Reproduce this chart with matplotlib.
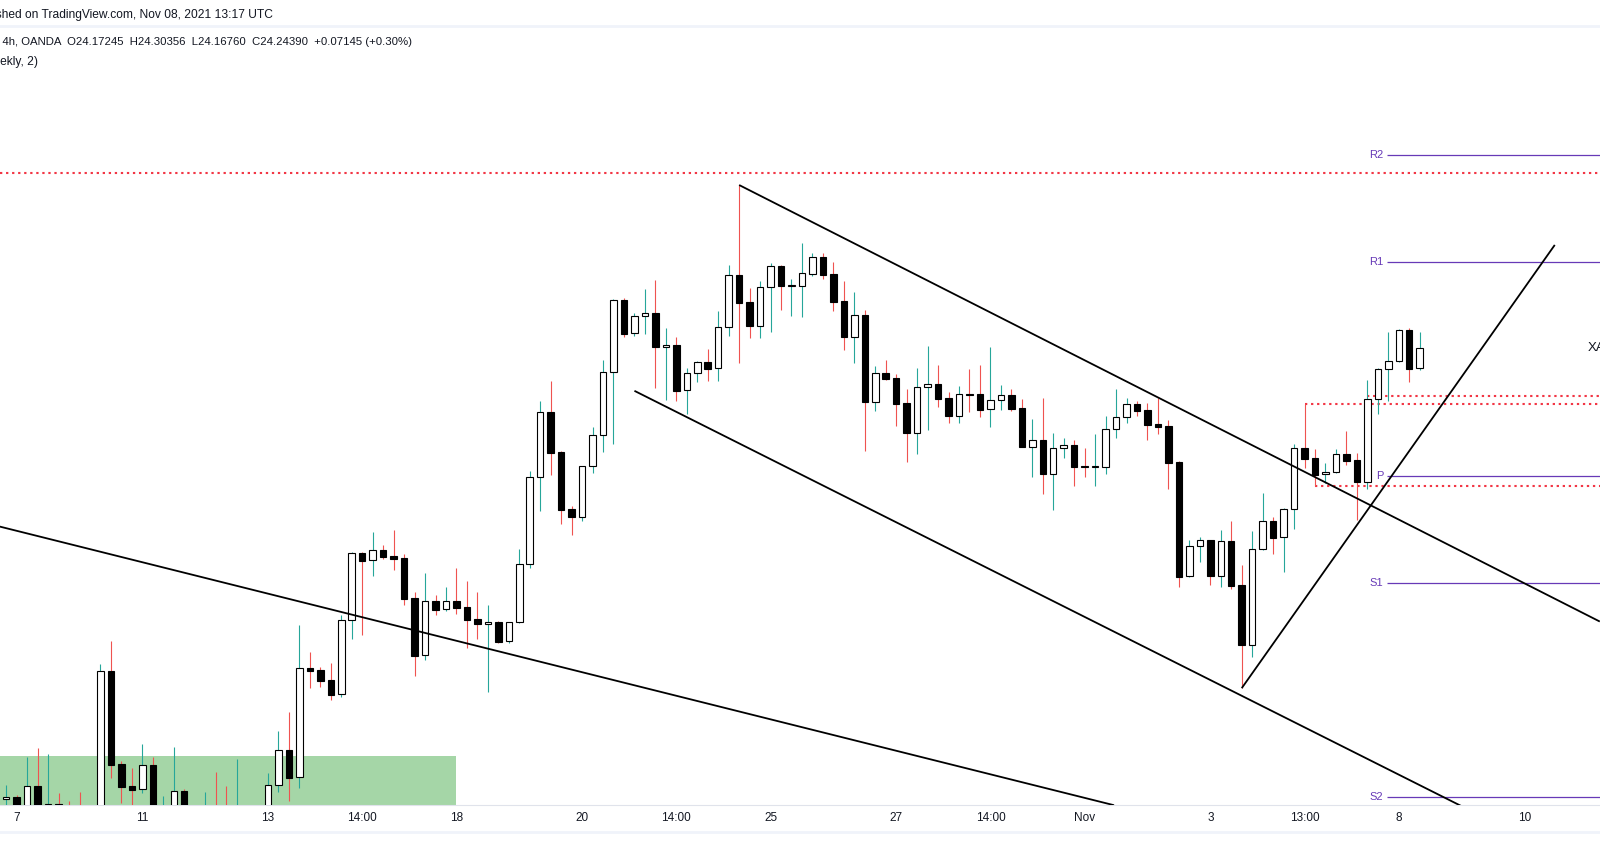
import matplotlib.pyplot as plt
from matplotlib.lines import Line2D
from matplotlib.patches import Rectangle

plt.rcParams['font.family'] = ['Liberation Sans', 'DejaVu Sans']

# 4h candles, index 0 = Oct 7 00:00, one step per candle
bar_index = list(range(-1, 135))

opens = [
    22.633, 22.641, 22.588, 22.681, 22.609, 22.616, 22.602, 22.606, 22.541, 22.559,
    23.090, 22.759, 22.681, 22.669, 22.756, 22.588, 22.595, 22.662, 22.577, 22.577,
    22.602, 22.595, 22.559, 22.577, 22.552, 22.588, 22.683, 22.808, 22.712, 23.101,
    23.094, 23.058, 23.008, 23.272, 23.512, 23.487, 23.522, 23.502, 23.495, 23.352,
    23.147, 23.340, 23.312, 23.340, 23.320, 23.277, 23.259, 23.266, 23.197, 23.265,
    23.472, 23.783, 24.015, 23.872, 23.670, 23.642, 23.822, 23.933, 24.158, 24.415,
    24.297, 24.358, 24.370, 24.250, 24.255, 24.094, 24.155, 24.194, 24.172, 24.319,
    24.505, 24.408, 24.325, 24.462, 24.537, 24.467, 24.467, 24.510, 24.569, 24.508,
    24.412, 24.285, 24.362, 24.053, 24.156, 24.137, 24.049, 23.942, 24.105, 24.116,
    24.066, 24.003, 24.082, 24.081, 24.026, 24.058, 24.077, 24.031, 23.892, 23.916,
    23.796, 23.887, 23.897, 23.824, 23.819, 23.821, 23.955, 23.997, 24.045, 24.024,
    23.974, 23.966, 23.838, 23.430, 23.537, 23.558, 23.432, 23.555, 23.399, 23.185,
    23.526, 23.626, 23.569, 23.669, 23.887, 23.851, 23.794, 23.803, 23.865, 23.845,
    23.767, 24.062, 24.169, 24.197, 24.309, 24.17245]

highs = [
    22.684, 22.647, 22.785, 22.817, 22.795, 22.656, 22.627, 22.659, 22.609, 23.116,
    23.199, 22.770, 22.745, 22.831, 22.784, 22.645, 22.820, 22.670, 22.602, 22.659,
    22.731, 22.681, 22.777, 22.595, 22.602, 22.727, 22.877, 22.946, 23.256, 23.159,
    23.105, 23.120, 23.291, 23.516, 23.516, 23.588, 23.541, 23.595, 23.509, 23.374,
    23.441, 23.363, 23.391, 23.459, 23.413, 23.374, 23.327, 23.270, 23.268, 23.527,
    23.806, 24.056, 24.127, 23.877, 23.681, 23.825, 23.963, 24.202, 24.420, 24.424,
    24.370, 24.456, 24.488, 24.315, 24.284, 24.174, 24.199, 24.241, 24.377, 24.541,
    24.827, 24.459, 24.484, 24.549, 24.541, 24.491, 24.620, 24.584, 24.584, 24.552,
    24.484, 24.445, 24.381, 24.181, 24.202, 24.152, 24.097, 24.174, 24.252, 24.184,
    24.088, 24.109, 24.170, 24.185, 24.249, 24.113, 24.099, 24.063, 23.991, 24.066,
    23.941, 23.924, 23.916, 23.888, 23.938, 24.002, 24.099, 24.066, 24.056, 24.049,
    24.066, 23.988, 23.840, 23.558, 23.570, 23.559, 23.595, 23.627, 23.470, 23.591,
    23.727, 23.641, 23.674, 23.902, 24.046, 23.884, 23.833, 23.884, 23.950, 23.870,
    24.130, 24.174, 24.302, 24.313, 24.316, 24.30356]

lows = [
    22.588, 22.552, 22.566, 22.577, 22.588, 22.595, 22.566, 22.559, 22.524, 22.541,
    22.709, 22.621, 22.602, 22.655, 22.577, 22.566, 22.577, 22.566, 22.531, 22.559,
    22.552, 22.541, 22.541, 22.524, 22.524, 22.574, 22.660, 22.627, 22.675, 23.032,
    23.035, 22.988, 23.000, 23.207, 23.221, 23.432, 23.492, 23.453, 23.328, 23.074,
    23.132, 23.291, 23.306, 23.296, 23.175, 23.207, 23.016, 23.191, 23.192, 23.263,
    23.458, 23.664, 23.792, 23.617, 23.578, 23.626, 23.800, 23.874, 23.902, 24.284,
    24.288, 24.296, 24.102, 24.059, 24.057, 24.010, 24.125, 24.128, 24.128, 24.289,
    24.192, 24.282, 24.282, 24.302, 24.381, 24.360, 24.357, 24.503, 24.492, 24.378,
    24.238, 24.192, 23.878, 24.021, 24.131, 23.966, 23.839, 23.867, 23.953, 24.035,
    23.978, 23.978, 24.017, 23.999, 23.963, 24.024, 24.021, 23.891, 23.785, 23.725,
    23.667, 23.853, 23.753, 23.785, 23.753, 23.796, 23.925, 23.978, 24.003, 23.917,
    23.939, 23.742, 23.392, 23.427, 23.482, 23.400, 23.392, 23.385, 23.032, 23.142,
    23.524, 23.510, 23.445, 23.600, 23.816, 23.752, 23.764, 23.800, 23.826, 23.631,
    23.742, 24.010, 24.057, 24.195, 24.125, 24.16760]

closes = [
    22.640, 22.577, 22.681, 22.602, 22.616, 22.609, 22.588, 22.581, 22.577, 23.090,
    22.757, 22.678, 22.667, 22.755, 22.595, 22.609, 22.662, 22.588, 22.552, 22.602,
    22.577, 22.566, 22.595, 22.559, 22.577, 22.683, 22.808, 22.710, 23.101, 23.092,
    23.057, 23.007, 23.272, 23.512, 23.485, 23.522, 23.500, 23.492, 23.350, 23.146,
    23.340, 23.310, 23.340, 23.317, 23.274, 23.260, 23.265, 23.195, 23.265, 23.472,
    23.783, 24.015, 23.871, 23.667, 23.642, 23.822, 23.933, 24.158, 24.415, 24.296,
    24.358, 24.369, 24.250, 24.255, 24.092, 24.155, 24.194, 24.171, 24.319, 24.505,
    24.407, 24.325, 24.462, 24.537, 24.467, 24.470, 24.512, 24.569, 24.507, 24.410,
    24.285, 24.362, 24.053, 24.155, 24.134, 24.046, 23.942, 24.105, 24.115, 24.063,
    24.003, 24.080, 24.078, 24.024, 24.058, 24.076, 24.027, 23.892, 23.915, 23.796,
    23.887, 23.897, 23.821, 23.819, 23.824, 23.955, 23.997, 24.044, 24.021, 23.971,
    23.964, 23.835, 23.428, 23.537, 23.558, 23.432, 23.555, 23.396, 23.185, 23.526,
    23.626, 23.567, 23.669, 23.887, 23.850, 23.792, 23.803, 23.865, 23.842, 23.767,
    24.062, 24.169, 24.197, 24.309, 24.171, 24.24390]

tick_pos = [0, 12, 24, 33, 42, 54, 63, 72, 84, 93, 102, 114, 123, 132, 144]
tick_labels = ['7', '11', '13', '14:00', '18', '20', '14:00', '25', '27',
               '14:00', 'Nov', '3', '13:00', '8', '10']

pivot_names = ['R2', 'R1', 'P', 'S1', 'S2']
pivot_values = [24.934, 24.551, 23.788, 23.405, 22.641]

# drawings: (bar index, price) anchors
falling_line = [(-1.6, 23.607), (104.7, 22.613)]
channel_top = [(69, 24.827), (151.2, 23.268)]
channel_bottom = [(59, 24.092), (140, 22.571)]
rising_line = [(117, 23.03), (146.9, 24.613)]
level_top = 24.871
level_rays = [(123, 24.046), (124, 23.752), (129, 24.075)]
zone = (-3, 41.96, 22.30, 22.788)  # x0, x1, low, high

XMIN, XMAX = -1.595, 151.22
BULL_WICK, BEAR_WICK = '#26a69a', '#ef5350'
RED = '#f23645'
PURPLE = '#673ab7'

fig = plt.figure(figsize=(16, 8.68), dpi=100)
ax = fig.add_axes([0, 63 / 868, 1, 777 / 868])
ax.set_xlim(XMIN, XMAX)
ax.set_ylim(22.6128, 25.3878)

# green zone
ax.add_patch(Rectangle((zone[0], zone[2]), zone[1] - zone[0], zone[3] - zone[2],
                       facecolor='#a5d6a7', edgecolor='none', zorder=1))

# candles
wick_cols = [BULL_WICK if c >= o else BEAR_WICK for o, c in zip(opens, closes)]
body_cols = ['white' if c >= o else 'black' for o, c in zip(opens, closes)]
bottoms = [min(o, c) for o, c in zip(opens, closes)]
heights = [max(abs(c - o), 0.002) for o, c in zip(opens, closes)]
ax.vlines(bar_index, lows, highs, colors=wick_cols, linewidth=0.8, zorder=3)
ax.bar(bar_index, heights, bottom=bottoms, width=0.62, color=body_cols,
       edgecolor='black', linewidth=0.8, zorder=4)

# red dotted levels
dots = (0, (1.1, 1.8))
ax.axhline(level_top, color=RED, lw=1.5, ls=dots, zorder=2)
for start, price in level_rays:
    ax.hlines(price, start, XMAX, color=RED, lw=1.5, linestyles=[dots], zorder=2)

# pivots
ax.hlines(pivot_values, 130.9, XMAX, color=PURPLE, lw=0.9, zorder=2)
for name, v in zip(pivot_names, pivot_values):
    ax.text(130.5, v, name, ha='right', va='center', color=PURPLE, fontsize=8)

# trend lines
ax.axline(falling_line[0], falling_line[1], color='black', lw=1.3, zorder=5)
for line in (channel_top, channel_bottom, rising_line):
    ax.plot([p[0] for p in line], [p[1] for p in line], color='black', lw=1.3,
            zorder=5, solid_capstyle='butt')

ax.text(150.05, 24.244, 'XAGUSD', ha='left', va='center', fontsize=9.5,
        color='#131722', clip_on=False)

for s in ('top', 'left', 'right'):
    ax.spines[s].set_visible(False)
ax.spines['bottom'].set_color('#e0e3eb')
ax.set_yticks([])
ax.set_xticks(tick_pos, tick_labels)
ax.tick_params(axis='x', length=0, pad=5, labelsize=8.5, colors='#131722')

# header / legend
fig.text(273 / 1600, 1 - 15 / 868, 'Published on TradingView.com, Nov 08, 2021 13:17 UTC',
         ha='right', va='center', fontsize=8.65, color='#131722')
fig.add_artist(Line2D([0, 1], [1 - 26 / 868] * 2, color='#f0f3fa', lw=2))
fig.text(412 / 1600, 1 - 42 / 868,
         'Silver / U.S. Dollar, 4h, OANDA  O24.17245  H24.30356  L24.16760  C24.24390  +0.07145 (+0.30%)',
         ha='right', va='center', fontsize=8.2, color='#131722')
fig.text(38 / 1600, 1 - 62 / 868, 'Pivot Points Standard (Traditional, Weekly, 2)',
         ha='right', va='center', fontsize=8.65, color='#131722')
fig.add_artist(Line2D([0, 1], [1 - 832 / 868] * 2, color='#f0f3fa', lw=2))

fig.savefig('out.png', dpi=100)
